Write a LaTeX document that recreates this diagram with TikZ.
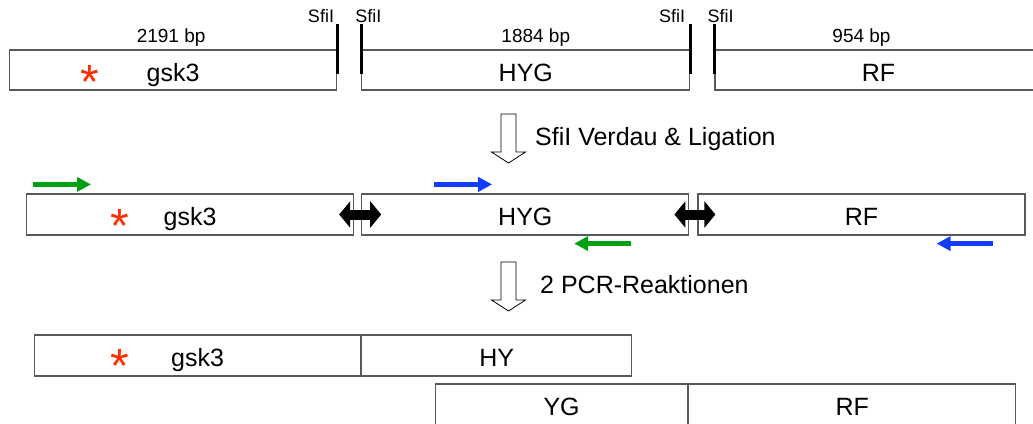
\documentclass[tikz,border=0pt]{standalone}
\usepackage{fontspec}
\setmainfont{Liberation Sans}
\usetikzlibrary{positioning,calc,arrows.meta}
\definecolor{primergreen}{RGB}{0,160,20}
\definecolor{primerblue}{RGB}{20,60,255}
\definecolor{mutred}{RGB}{255,45,0}

\begin{document}
\begin{tikzpicture}[x=1pt, y=-1pt,
  fragment/.style={draw=black!65, line width=1.2pt, minimum height=40pt, inner sep=0pt, font=\fontsize{25}{30}\selectfont, text height=22pt, text depth=0pt},
  site/.style={line width=3pt},
  sitelabel/.style={inner sep=0pt, font=\fontsize{18}{20}\selectfont},
  bplabel/.style={inner sep=0pt, anchor=base, font=\fontsize{19}{22}\selectfont},
  steplabel/.style={inner sep=0pt, anchor=base west, font=\fontsize{25}{30}\selectfont},
  mutation/.style={inner sep=0pt, anchor=base, text=mutred, font=\fontsize{48}{50}\selectfont},
  primer/.style={line width=4.5pt, -{Triangle[length=14pt, width=14pt]}},
  joint/.style={line width=10pt, {Triangle[length=11pt, width=26pt]}-{Triangle[length=11pt, width=26pt]}},
  openarrow/.pic={\draw[fill=white, line width=0.8pt, line join=miter]
    (-7.5,0) -- (7.5,0) -- (7.5,38) -- (17,38) -- (0,49) -- (-17,38) -- (-7.5,38) -- cycle;},
]
\useasboundingbox (0,0) rectangle (1033,423);

% Ausgangsfragmente
\node[fragment, anchor=west, minimum width=327pt] (g1) at (9,70) {gsk3};
\node[fragment, minimum width=328pt, right=24pt of g1] (h1) {HYG};
\node[fragment, minimum width=327pt, right=24pt of h1] (r1) {RF};
\node[mutation] (m1) at ($(g1.west)+(81,28)$) {*};

\coordinate (cut1) at (g1.north east);
\coordinate (cut2) at (h1.north west);
\coordinate (cut3) at (h1.north east);
\coordinate (cut4) at (r1.north west);
\foreach \c in {cut1,cut2,cut3,cut4}
  \draw[site] ($(\c)+(0,-25)$) -- ($(\c)+(0,25)$);

\node[sitelabel, anchor=base east] at ($(cut1)+(-3,-27)$) {SfiI};
\node[sitelabel, anchor=base west] at ($(cut2)+(-6,-27)$) {SfiI};
\node[sitelabel, anchor=base east] at ($(cut3)+(-5,-27)$) {SfiI};
\node[sitelabel, anchor=base west] at ($(cut4)+(-7,-27)$) {SfiI};

\node[bplabel] (len1) at ($(g1.north)+(-2,-7)$) {2191 bp};
\node[bplabel] (len2) at ($(h1.north)+(10,-7)$) {1884 bp};
\node[bplabel] (len3) at ($(r1.north)+(-17,-7)$) {954 bp};

\pic at (508.5,114) {openarrow};
\node[steplabel] (step1) at (535,145) {SfiI Verdau \& Ligation};

% Ligationsprodukt
\node[fragment, anchor=west, minimum width=327pt, minimum height=41pt] (g2) at (26,214.5) {gsk3};
\node[fragment, minimum width=327pt, minimum height=41pt, right=7pt of g2] (h2) {HYG};
\node[fragment, minimum width=327pt, minimum height=41pt, right=8pt of h2] (r2) {RF};
\node[mutation] (m2) at ($(g2.west)+(94,28)$) {*};

\draw[joint] ($(g2.east)+(-15,0)$) -- ($(h2.west)+(20,0)$);
\draw[joint] ($(h2.east)+(-15,0)$) -- ($(r2.west)+(18,0)$);

\draw[primer, primergreen] ($(g2.north west)+(7,-9)$) -- ++(58,0);
\draw[primer, primerblue] ($(h2.north west)+(73,-9)$) -- ++(58,0);
\draw[primer, primergreen] ($(h2.south west)+(270,8)$) -- ++(-57,0);
\draw[primer, primerblue] ($(r2.south east)+(-33,8)$) -- ++(-56,0);

\pic at (508.5,262) {openarrow};
\node[steplabel] (step2) at (540,293) {2 PCR-Reaktionen};

% PCR-Produkte
\node[fragment, anchor=west, minimum width=326pt, minimum height=41pt] (g3) at (34,355.5) {gsk3};
\node[fragment, minimum width=270pt, minimum height=41pt, right=0pt of g3] (hy3) {HY};
\node[mutation] (m3) at ($(g3.west)+(86,27)$) {*};

\node[fragment, anchor=west, minimum width=252pt, minimum height=41pt] (yg4) at (435,404.5) {YG};
\node[fragment, minimum width=327pt, minimum height=41pt, right=0pt of yg4] (rf4) {RF};
\end{tikzpicture}
\end{document}
